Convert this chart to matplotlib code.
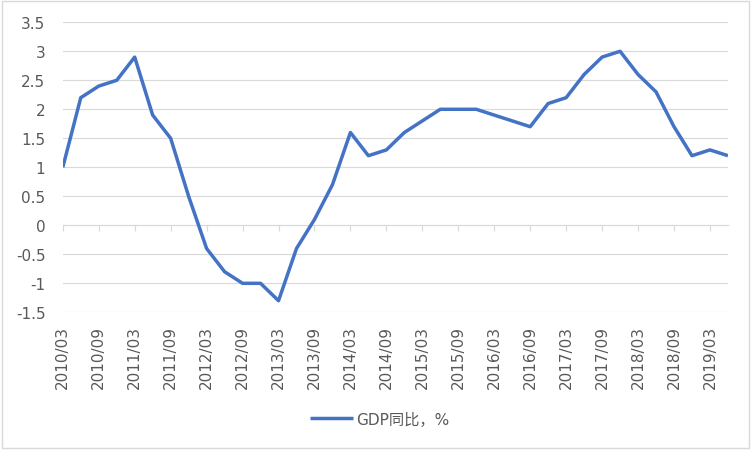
import matplotlib
matplotlib.use("Agg")
import matplotlib.pyplot as plt
from matplotlib.patches import Rectangle

plt.rcParams['font.family'] = ['DejaVu Sans', 'Noto Sans CJK SC']

quarters = ['2010/03', '2010/06', '2010/09', '2010/12',
            '2011/03', '2011/06', '2011/09', '2011/12',
            '2012/03', '2012/06', '2012/09', '2012/12',
            '2013/03', '2013/06', '2013/09', '2013/12',
            '2014/03', '2014/06', '2014/09', '2014/12',
            '2015/03', '2015/06', '2015/09', '2015/12',
            '2016/03', '2016/06', '2016/09', '2016/12',
            '2017/03', '2017/06', '2017/09', '2017/12',
            '2018/03', '2018/06', '2018/09', '2018/12',
            '2019/03', '2019/06']
gdp_yoy = [1.0, 2.2, 2.4, 2.5,
           2.9, 1.9, 1.5, 0.5,
           -0.4, -0.8, -1.0, -1.0,
           -1.3, -0.4, 0.1, 0.7,
           1.6, 1.2, 1.3, 1.6,
           1.8, 2.0, 2.0, 2.0,
           1.9, 1.8, 1.7, 2.1,
           2.2, 2.6, 2.9, 3.0,
           2.6, 2.3, 1.7, 1.2,
           1.3, 1.2]
y_ticks = [-1.5, -1, -0.5, 0, 0.5, 1, 1.5, 2, 2.5, 3, 3.5]
y_labels = ['-1.5', '-1', '-0.5', '0', '0.5', '1', '1.5', '2', '2.5', '3', '3.5']
series_name = 'GDP同比，%'

text_color = '#595959'
grid_color = '#D9D9D9'
line_color = '#4472C4'
fs = 11

fig = plt.figure(figsize=(7.52, 4.52), dpi=100)
ax = fig.add_axes([0.0835, 0.3068, 0.8845, 0.6417])

x = list(range(len(quarters)))
ax.plot(x, gdp_yoy, color=line_color, linewidth=2.5, solid_joinstyle='round',
        solid_capstyle='butt', label=series_name, zorder=3)

ax.set_xlim(0, len(quarters) - 1)
ax.set_ylim(-1.5, 3.5)
ax.set_yticks(y_ticks)
ax.set_yticklabels(y_labels)
ax.tick_params(axis='y', length=0, pad=12.5, labelsize=fs, labelcolor=text_color)
ax.grid(axis='y', color=grid_color, linewidth=0.8)
ax.set_axisbelow(True)

for s in ['top', 'right', 'left']:
    ax.spines[s].set_visible(False)
ax.spines['bottom'].set_position(('data', 0))
ax.spines['bottom'].set_color(grid_color)
ax.spines['bottom'].set_linewidth(0.8)

tick_pos = x[::2]
ax.set_xticks(tick_pos)
ax.tick_params(axis='x', direction='out', length=4, width=0.8, color=grid_color,
               labelbottom=False)

sec = ax.secondary_xaxis('bottom')
sec.set_xticks(tick_pos)
sec.set_xticklabels([quarters[i] for i in tick_pos], rotation=90, va='top', ha='center')
sec.tick_params(axis='x', length=0, pad=9, labelsize=fs, labelcolor=text_color)
sec.spines['bottom'].set_visible(False)

leg = fig.legend(loc='center', bbox_to_anchor=(0.505, 0.071), frameon=False,
                 fontsize=fs, handlelength=2.8, handletextpad=0.2)
for t in leg.get_texts():
    t.set_color(text_color)

fig.patches.append(Rectangle((0.002, 0.006), 0.994, 0.99, transform=fig.transFigure,
                             fill=False, edgecolor='#D9D9D9', linewidth=1.0))

fig.savefig('out.png', dpi=100)
